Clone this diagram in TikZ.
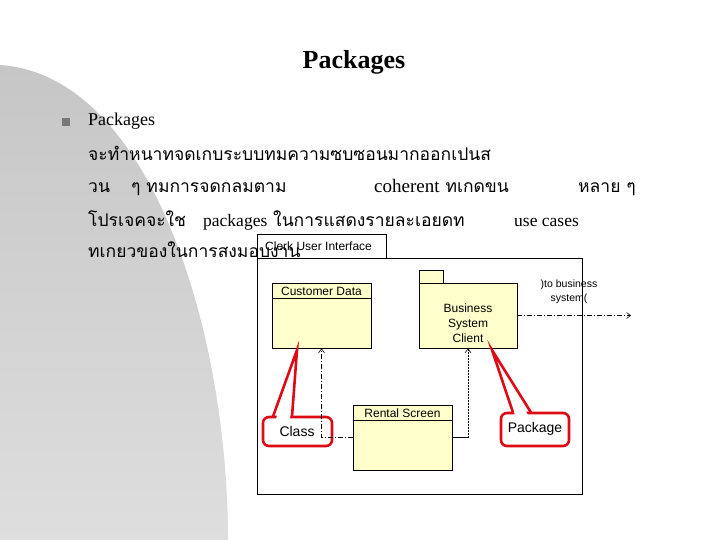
\documentclass[tikz,border=0pt]{standalone}
\usepackage{fontspec}
\setmainfont{Liberation Serif}
\newfontfamily\thaifont[Script=Thai]{Loma}
\newfontfamily\uisans{Liberation Sans}
\usetikzlibrary{arrows.meta}
\definecolor{clsfill}{RGB}{255,255,204}
\definecolor{callred}{RGB}{222,10,22}
\definecolor{bulletgray}{RGB}{120,120,120}
\definecolor{bgtop}{RGB}{198,198,198}
\definecolor{bgbot}{RGB}{222,222,222}
\begin{document}
\begin{tikzpicture}[x=1pt,y=-1pt,
  thaitext/.style={anchor=base west, inner sep=0pt, font=\thaifont\fontsize{17.5}{20}\selectfont},
  uml/.style={draw=black, line width=0.8pt},
  classbox/.style={uml, fill=clsfill, inner sep=0pt},
  pkgbox/.style={uml, fill=white, inner sep=0pt},
  umltext/.style={inner sep=0pt, font=\uisans\fontsize{12}{15}\selectfont, align=center},
  dep/.style={draw=black, line width=0.6pt, dash pattern=on 5pt off 2pt on 1pt off 2pt, -{Straight Barb[length=4pt,width=6pt]}},
  depdot/.style={draw=black, line width=0.6pt, dash pattern=on 1.5pt off 1.5pt, -{Straight Barb[length=4pt,width=6pt]}},
  callout/.style={draw=callred, line width=2.6pt, fill=white, rounded corners=6pt},
  pointer/.style={draw=callred, line width=2.6pt, line join=miter},
  calltext/.style={inner sep=0pt, font=\uisans\fontsize{14}{16}\selectfont}
]
\useasboundingbox (0,0) rectangle (720,540);
\fill[white] (0,0) rectangle (720,540);
% gray decorative background
\shade[top color=bgtop, bottom color=bgbot] (0,65) .. controls (150,75) and (228,330) .. (228,540) -- (0,540) -- cycle;

% title
\node[anchor=base, inner sep=0pt, font=\bfseries\fontsize{26}{30}\selectfont] (title) at (354,69) {Packages};

% bullet
\node[fill=bulletgray, minimum size=8pt, inner sep=0pt] (bullet) at (66,122) {};
\node[anchor=base west, inner sep=0pt, font=\fontsize{18}{20}\selectfont] (pk) at (88,126) {Packages};

% ---------- UML diagram ----------
% outer package Clerk User Interface
\node[pkgbox, minimum width=129pt, minimum height=24pt] (cuitab) at (321.5,246) {};
\node[pkgbox, minimum width=325pt, minimum height=236pt] (cui) at (419.5,376) {};
\node[umltext, anchor=west, font=\uisans\fontsize{12}{14}\selectfont] (cuilbl) at (265,246) {Clerk User Interface};

% Customer Data class
\node[classbox, minimum width=99pt, minimum height=65pt] (cd) at (321.5,315.5) {};
\draw[uml] ([yshift=-16pt]cd.north west) -- ([yshift=-16pt]cd.north east);
\node[umltext] (cdlbl) at (321.5,291.5) {Customer Data};

% Business System Client package
\node[classbox, minimum width=24pt, minimum height=13pt] (bsctab) at (431,276.5) {};
\node[classbox, minimum width=98pt, minimum height=65pt] (bsc) at (468,315.5) {};
\node[umltext, font=\uisans\fontsize{12}{15}\selectfont] (bsclbl) at (468,323) {Business\\System\\Client};

% Rental Screen class
\node[classbox, minimum width=99pt, minimum height=65pt] (rs) at (402.5,437.5) {};
\draw[uml] ([yshift=-16pt]rs.north west) -- ([yshift=-16pt]rs.north east);
\node[umltext] (rslbl) at (402.5,413.5) {Rental Screen};

% callouts
\node[callout, minimum width=69pt, minimum height=29pt] (classco) at (297.5,431.5) {};
\coordinate (classtip) at (297,350);
\fill[white] (276,419) -- (296.5,356) -- (290,419) -- cycle;
\draw[pointer] (273,416.5) -- (classtip) -- (292,416.5);
\node[calltext] (classtxt) at (297,431) {Class};

\node[callout, minimum width=68pt, minimum height=33pt] (pkgco) at (535,429.5) {};
\coordinate (pkgtip) at (492,350);
\fill[white] (515,415) -- (494,357) -- (528,415) -- cycle;
\draw[pointer] (513,412.5) -- (pkgtip) -- (531,412.5);
\node[calltext] (pkgtxt) at (535,429) {Package};

% dependencies
\draw[dep] (rs.west) -| (cd.south);
\draw[black, line width=0.6pt] (rs.east) -- (468,437.5);
\draw[depdot] (468,437.5) -- (bsc.south);
\coordinate (ext) at (631,315.5);
\draw[dep] (bsc.east) -- (ext);
\node[umltext, font=\uisans\fontsize{10.5}{14}\selectfont] (extlbl) at (569,292) {)to business\\system(};

% ---------- Thai text ----------
\node[thaitext] (l1) at (88,161) {จะทำหนาทจดเกบระบบทมความซบซอนมากออกเปนส};
\node[thaitext] (l2a) at (88,193) {วน};
\node[thaitext] (l2b) at (131,193) {ๆ ทมการจดกลมตาม};
\node[thaitext] (l2c) at (374,193) {{\rmfamily\fontsize{19}{20}\selectfont coherent} ทเกดขน};
\node[thaitext] (l2d) at (578,193) {หลาย ๆ};
\node[thaitext] (l3a) at (88,226) {โปรเจคจะใช};
\node[thaitext] (l3b) at (203,226) {{\rmfamily packages} ในการแสดงรายละเอยดท};
\node[thaitext] (l3c) at (514,226) {{\rmfamily use cases}};
\node[thaitext] (l4) at (88,258) {ทเกยวของในการสงมอบงาน};
\end{tikzpicture}
\end{document}
